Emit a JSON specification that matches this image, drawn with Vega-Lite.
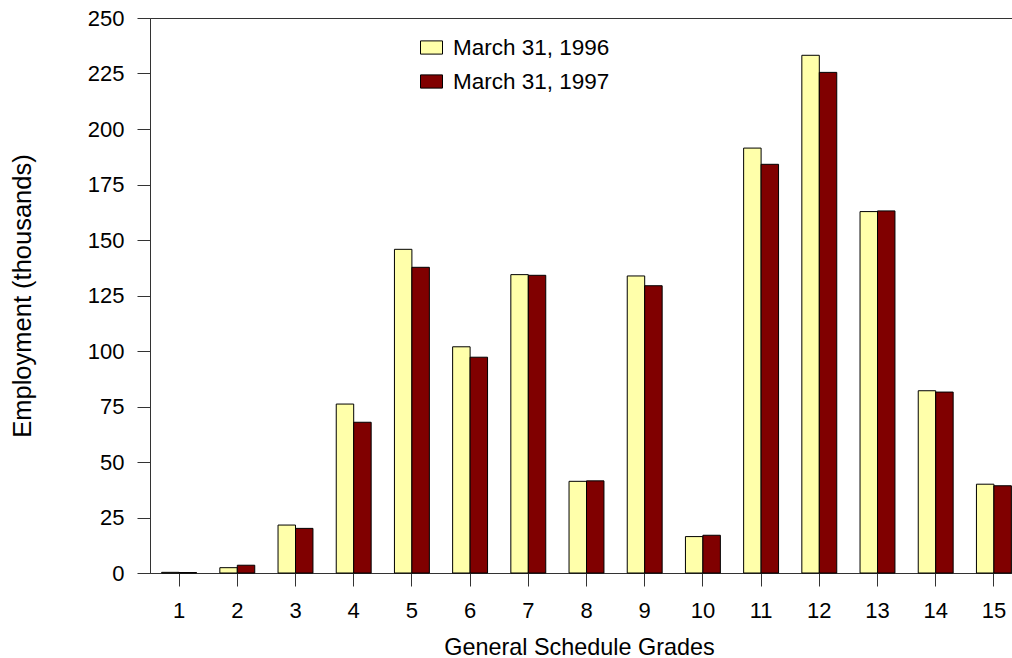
{
  "$schema": "https://vega.github.io/schema/vega-lite/v6.json",
  "autosize": {"type": "none"},
  "padding": {"left": 150, "top": 18, "right": 0, "bottom": 85},
  "width": 863,
  "height": 555,
  "background": "white",
  "config": {
    "font": "Liberation Sans",
    "view": {"stroke": "#333333", "strokeWidth": 1},
    "axis": {
      "labelFont": "Liberation Sans",
      "titleFont": "Liberation Sans",
      "labelFontSize": 22,
      "titleFontSize": 23.4,
      "titleFontWeight": "normal",
      "labelColor": "black",
      "titleColor": "black",
      "domainColor": "#333333",
      "tickColor": "#333333",
      "tickSize": 13,
      "grid": false
    },
    "legend": {
      "labelFont": "Liberation Sans",
      "labelFontSize": 22.5,
      "labelColor": "black"
    }
  },
  "data": {
    "values": [
      {"grade": 1, "period": "March 31, 1996", "employment": 0.3},
      {"grade": 1, "period": "March 31, 1997", "employment": 0.2},
      {"grade": 2, "period": "March 31, 1996", "employment": 2.4},
      {"grade": 2, "period": "March 31, 1997", "employment": 3.5},
      {"grade": 3, "period": "March 31, 1996", "employment": 21.6},
      {"grade": 3, "period": "March 31, 1997", "employment": 20.1},
      {"grade": 4, "period": "March 31, 1996", "employment": 76.1},
      {"grade": 4, "period": "March 31, 1997", "employment": 67.9},
      {"grade": 5, "period": "March 31, 1996", "employment": 145.8},
      {"grade": 5, "period": "March 31, 1997", "employment": 137.7},
      {"grade": 6, "period": "March 31, 1996", "employment": 101.9},
      {"grade": 6, "period": "March 31, 1997", "employment": 97.2},
      {"grade": 7, "period": "March 31, 1996", "employment": 134.4},
      {"grade": 7, "period": "March 31, 1997", "employment": 134.1},
      {"grade": 8, "period": "March 31, 1996", "employment": 41.3},
      {"grade": 8, "period": "March 31, 1997", "employment": 41.5},
      {"grade": 9, "period": "March 31, 1996", "employment": 133.8},
      {"grade": 9, "period": "March 31, 1997", "employment": 129.4},
      {"grade": 10, "period": "March 31, 1996", "employment": 16.4},
      {"grade": 10, "period": "March 31, 1997", "employment": 17.0},
      {"grade": 11, "period": "March 31, 1996", "employment": 191.4},
      {"grade": 11, "period": "March 31, 1997", "employment": 184.1},
      {"grade": 12, "period": "March 31, 1996", "employment": 233.2},
      {"grade": 12, "period": "March 31, 1997", "employment": 225.5},
      {"grade": 13, "period": "March 31, 1996", "employment": 162.8},
      {"grade": 13, "period": "March 31, 1997", "employment": 163.1},
      {"grade": 14, "period": "March 31, 1996", "employment": 82.1},
      {"grade": 14, "period": "March 31, 1997", "employment": 81.5},
      {"grade": 15, "period": "March 31, 1996", "employment": 40.0},
      {"grade": 15, "period": "March 31, 1997", "employment": 39.3}
    ]
  },
  "mark": {"type": "bar", "stroke": "black", "strokeWidth": 1, "opacity": 1},
  "encoding": {
    "x": {
      "field": "grade",
      "type": "ordinal",
      "scale": {"range": [0, 873], "paddingInner": 0.4, "paddingOuter": 0.2},
      "axis": {"labelAngle": 0, "labelPadding": 14, "titlePadding": 15, "titleX": 429, "title": "General Schedule Grades"}
    },
    "xOffset": {
      "field": "period",
      "type": "nominal",
      "scale": {"paddingInner": 0, "paddingOuter": 0}
    },
    "y": {
      "field": "employment",
      "type": "quantitative",
      "scale": {"domain": [0, 250], "nice": false},
      "axis": {
        "values": [0, 25, 50, 75, 100, 125, 150, 175, 200, 225, 250],
        "labelPadding": 13,
        "titlePadding": 52,
        "titleFontSize": 25.5,
        "title": "Employment (thousands)"
      }
    },
    "color": {
      "field": "period",
      "type": "nominal",
      "scale": {"domain": ["March 31, 1996", "March 31, 1997"], "range": ["#ffffaa", "#800000"]},
      "legend": {
        "title": null,
        "orient": "none",
        "legendX": 270,
        "legendY": 18,
        "padding": 0,
        "symbolType": "M-1,-0.6L1,-0.6L1,0.6L-1,0.6Z",
        "symbolSize": 484,
        "symbolStrokeColor": "black",
        "symbolStrokeWidth": 1,
        "symbolOpacity": 1,
        "labelOffset": 10,
        "rowPadding": 11
      }
    }
  }
}
